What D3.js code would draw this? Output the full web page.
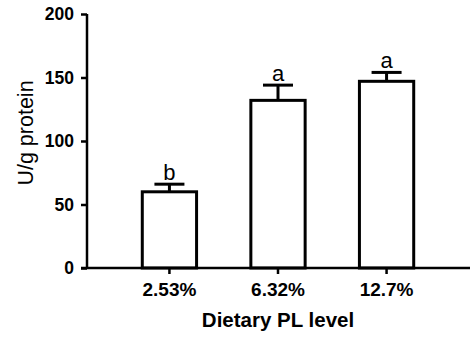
<!DOCTYPE html>
<html><head><meta charset="utf-8">
<script src="https://cdn.jsdelivr.net/npm/d3@7"></script>
<style>body{margin:0;background:#fff}svg{display:block}</style>
</head><body>
<svg id="c" width="470" height="337"></svg>
<script>
const categories = ["2.53%", "6.32%", "12.7%"];
const values = [60, 132, 147];
const errors = [6, 12, 7];
const letters = ["b", "a", "a"];
const yTicks = [0, 50, 100, 150, 200];

const svg = d3.select("#c");
const font = "Arial, 'Liberation Sans', sans-serif";
const x0 = 87, yTop = 14, yBot = 268;
const x = d3.scaleBand().domain(categories).range([88, 468]).padding(0.5);
const y = d3.scaleLinear().domain([0, 200]).range([yBot, yTop]);

// bars
const g = svg.append("g");
g.selectAll("rect.bar").data(values).join("rect")
  .attr("x", (d,i) => x(categories[i]))
  .attr("y", d => y(d))
  .attr("width", x.bandwidth())
  .attr("height", d => yBot - y(d))
  .attr("fill", "#fff").attr("stroke", "#000").attr("stroke-width", 3);

// error bars
values.forEach((v, i) => {
  const cx = x(categories[i]) + x.bandwidth()/2;
  g.append("line").attr("x1", cx).attr("x2", cx).attr("y1", y(v)).attr("y2", y(v+errors[i]))
    .attr("stroke", "#000").attr("stroke-width", 3);
  g.append("line").attr("x1", cx-15).attr("x2", cx+15).attr("y1", y(v+errors[i])).attr("y2", y(v+errors[i]))
    .attr("stroke", "#000").attr("stroke-width", 3);
  g.append("text").attr("x", cx).attr("y", y(v+errors[i]) - 4.5)
    .attr("text-anchor", "middle").attr("font-family", font).attr("font-size", 22)
    .text(letters[i]);
});

// y axis
const ya = svg.append("g").attr("transform", `translate(${x0},0)`)
  .call(d3.axisLeft(y).tickValues(yTicks).tickSize(6).tickPadding(7));
ya.select(".domain").attr("stroke-width", 2.5).attr("d", `M0,${yTop}V${yBot}`);
ya.selectAll(".tick line").attr("stroke-width", 2.5);
ya.selectAll(".tick text").attr("font-family", font).attr("font-size", 17.5).attr("font-weight", "bold").attr("fill", "#000");

// x axis
const xa = svg.append("g").attr("transform", `translate(0,${yBot})`)
  .call(d3.axisBottom(x).tickSize(6).tickPadding(9));
xa.select(".domain").attr("stroke-width", 2.5).attr("d", "M81,0H470");
xa.selectAll(".tick line").attr("stroke-width", 2.5);
xa.selectAll(".tick text").attr("font-family", font).attr("font-size", 19).attr("font-weight", "bold").attr("fill", "#000");

// titles
svg.append("text").attr("x", 278).attr("y", 327).attr("text-anchor", "middle")
  .attr("font-family", font).attr("font-size", 20.5).attr("font-weight", "bold").text("Dietary PL level");
svg.append("text").attr("transform", "translate(32.5,133) rotate(-90)").attr("text-anchor", "middle")
  .attr("font-family", font).attr("font-size", 21.5).text("U/g protein");
</script>
</body></html>
